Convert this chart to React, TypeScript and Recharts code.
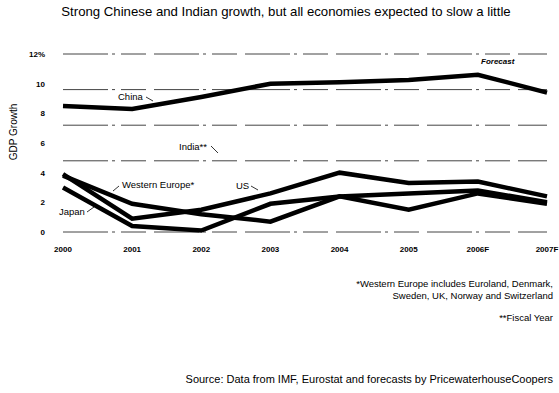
import React from 'react';
import {
  CartesianGrid,
  Line,
  LineChart,
  ReferenceLine,
  XAxis,
  YAxis,
} from 'recharts';

// Data
const years = ['2000', '2001', '2002', '2003', '2004', '2005', '2006F', '2007F'];
const china = [8.5, 8.3, 9.1, 10.0, 10.1, 10.25, 10.6, 9.4];
const us = [3.9, 0.9, 1.5, 2.6, 4.0, 3.3, 3.4, 2.4];
const westernEurope = [3.8, 1.9, 1.2, 0.7, 2.4, 1.5, 2.6, 1.9];
const japan = [3.0, 0.4, 0.1, 1.9, 2.4, 2.6, 2.8, 2.0];
const yTicks = [0, 2, 4, 6, 8, 10, 12];
const gridValues = [12, 9.6, 7.2, 4.8, 0];

const data = years.map((year, i) => ({
  year,
  china: china[i],
  us: us[i],
  westernEurope: westernEurope[i],
  japan: japan[i],
}));

const FONT = '"Liberation Sans", Arial, sans-serif';
const seriesKeys = ['china', 'us', 'westernEurope', 'japan'];

const Note = ({ x, y, children, anchor = 'start', size = 9.5, italic = false }: any) => (
  <text
    x={x}
    y={y}
    textAnchor={anchor}
    fontSize={size}
    fontFamily={FONT}
    fontStyle={italic ? 'italic' : 'normal'}
    fontWeight={italic ? 700 : 400}
    fill="#000"
  >
    {children}
  </text>
);

export default function App() {
  return (
    <div style={{ position: 'absolute', left: 0, top: 0, width: 559, height: 393, background: '#fff', fontFamily: FONT }}>
      <LineChart
        width={559}
        height={393}
        data={data}
        margin={{ top: 54, right: 12, bottom: 0, left: 0 }}
      >
        <CartesianGrid stroke="none" />
        {gridValues.map((v) => (
          <ReferenceLine
            key={v}
            y={v}
            stroke="#444"
            strokeWidth={1}
            strokeDasharray="45 4 3 6 25 8"
          />
        ))}
        <XAxis
          dataKey="year"
          height={161}
          axisLine={false}
          tickLine={false}
          tickSize={0}
          tickMargin={14}
          interval={0}
          tick={{ fontSize: 8, fontWeight: 700, fill: '#000', fontFamily: FONT }}
        />
        <YAxis
          domain={[0, 12]}
          ticks={yTicks}
          width={63}
          axisLine={false}
          tickLine={false}
          tickSize={0}
          tickMargin={18}
          tickFormatter={(v) => (v === 12 ? '12%' : String(v))}
          tick={{ fontSize: 8, fontWeight: 700, fill: '#000', fontFamily: FONT }}
        />
        {seriesKeys.map((k) => (
          <Line
            key={k}
            dataKey={k}
            type="linear"
            stroke="#000"
            strokeWidth={4.5}
            dot={false}
            isAnimationActive={false}
          />
        ))}
      </LineChart>
      <svg
        width={559}
        height={393}
        style={{ position: 'absolute', left: 0, top: 0, pointerEvents: 'none' }}
      >
        <text x={286} y={16} textAnchor="middle" fontSize={13.2} fontFamily={FONT} fill="#000">
          Strong Chinese and Indian growth, but all economies expected to slow a little
        </text>
        <text
          x={0}
          y={0}
          transform="translate(17,132) rotate(-90)"
          textAnchor="middle"
          fontSize={10}
          fontFamily={FONT}
          fill="#000"
        >
          GDP Growth
        </text>
        <Note x={118} y={100}>China</Note>
        <line x1={146} y1={97} x2={153} y2={101} stroke="#000" strokeWidth={0.8} />
        <Note x={179} y={150}>India**</Note>
        <line x1={211} y1={146} x2={218} y2={153} stroke="#000" strokeWidth={0.8} />
        <Note x={122} y={188}>Western Europe*</Note>
        <line x1={119} y1={186} x2={113} y2={191} stroke="#000" strokeWidth={0.8} />
        <Note x={236} y={189}>US</Note>
        <line x1={251} y1={186} x2={258} y2={190} stroke="#000" strokeWidth={0.8} />
        <Note x={59} y={215}>Japan</Note>
        <line x1={87} y1={212} x2={94} y2={207} stroke="#000" strokeWidth={0.8} />
        <Note x={481} y={64} italic size={8}>Forecast</Note>
        <Note x={553} y={287} anchor="end">*Western Europe includes Euroland, Denmark,</Note>
        <Note x={553} y={299} anchor="end">Sweden, UK, Norway and Switzerland</Note>
        <Note x={553} y={321} anchor="end">**Fiscal Year</Note>
        <Note x={553} y={383} anchor="end" size={11}>
          Source: Data from IMF, Eurostat and forecasts by PricewaterhouseCoopers
        </Note>
      </svg>
    </div>
  );
}
